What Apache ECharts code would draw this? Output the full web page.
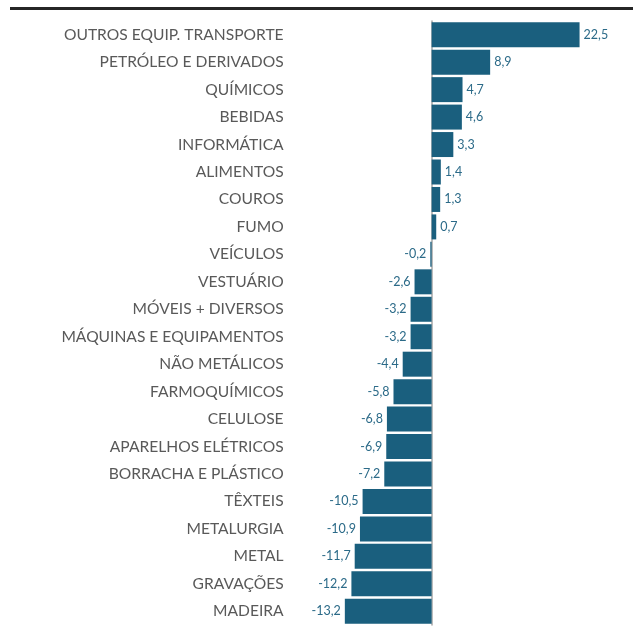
<!DOCTYPE html>
<html>
<head>
<meta charset="utf-8">
<script src="https://cdn.jsdelivr.net/npm/echarts@6/dist/echarts.min.js"></script>
<style>
  html, body { margin: 0; padding: 0; background: #fff; }
  #main { width: 633px; height: 627px; }
</style>
</head>
<body>
<div id="main"></div>
<script>
const setores = ['OUTROS EQUIP. TRANSPORTE', 'PETRÓLEO E DERIVADOS', 'QUÍMICOS', 'BEBIDAS', 'INFORMÁTICA',
  'ALIMENTOS', 'COUROS', 'FUMO', 'VEÍCULOS', 'VESTUÁRIO', 'MÓVEIS + DIVERSOS', 'MÁQUINAS E EQUIPAMENTOS',
  'NÃO METÁLICOS', 'FARMOQUÍMICOS', 'CELULOSE', 'APARELHOS ELÉTRICOS',
  'BORRACHA E PLÁSTICO', 'TÊXTEIS', 'METALURGIA', 'METAL', 'GRAVAÇÕES', 'MADEIRA']
const variacao = [22.5, 8.9, 4.7, 4.6, 3.3, 1.4, 1.3, 0.7, -0.2, -2.6, -3.2, -3.2,
  -4.4, -5.8, -6.8, -6.9, -7.2, -10.5, -10.9, -11.7, -12.2, -13.2]

const corBarra = '#1a5f7e'

const myChart = echarts.init(document.getElementById('main'))

// eixo de categorias deslocado até o zero (grid vai de -15 a 25)
const gridLeft = 333, gridRight = 37
const xMin = -15, xMax = 25
const deslocZero = (633 - gridLeft - gridRight) * (0 - xMin) / (xMax - xMin)

let option = {
  backgroundColor: '#fff',
  animation: false,
  graphic: [{
    type: 'rect',
    shape: { x: 10, y: 7, width: 623, height: 3 },
    style: { fill: '#262626' }
  }],
  grid: { left: gridLeft, right: gridRight, top: 21, bottom: 2, containLabel: false, outerBoundsMode: 'none' },
  xAxis: {
    type: 'value',
    min: xMin,
    max: xMax,
    axisLine: { show: false },
    axisTick: { show: false },
    axisLabel: { show: false },
    splitLine: { show: false }
  },
  yAxis: {
    type: 'category',
    inverse: true,
    data: setores,
    offset: -deslocZero,
    axisLine: { onZero: false, lineStyle: { color: '#a6a6a6', width: 1.5 } },
    axisTick: { length: 5, lineStyle: { color: '#a6a6a6' } },
    axisLabel: {
      margin: 148,
      color: '#595959',
      fontFamily: 'Lato',
      fontSize: 15.6
    }
  },
  series: [{
    type: 'bar',
    barCategoryGap: '9%',
    itemStyle: { color: corBarra },
    label: {
      show: true,
      position: 'right',
      distance: 4,
      color: '#2b6a88',
      fontFamily: 'Lato',
      fontSize: 12.5,
      formatter: p => p.value.toFixed(1).replace('.', ',')
    },
    data: variacao.map(v => ({
      value: v,
      label: { position: v < 0 ? 'left' : 'right' }
    }))
  }]
}

myChart.setOption(option)
</script>
</body>
</html>
